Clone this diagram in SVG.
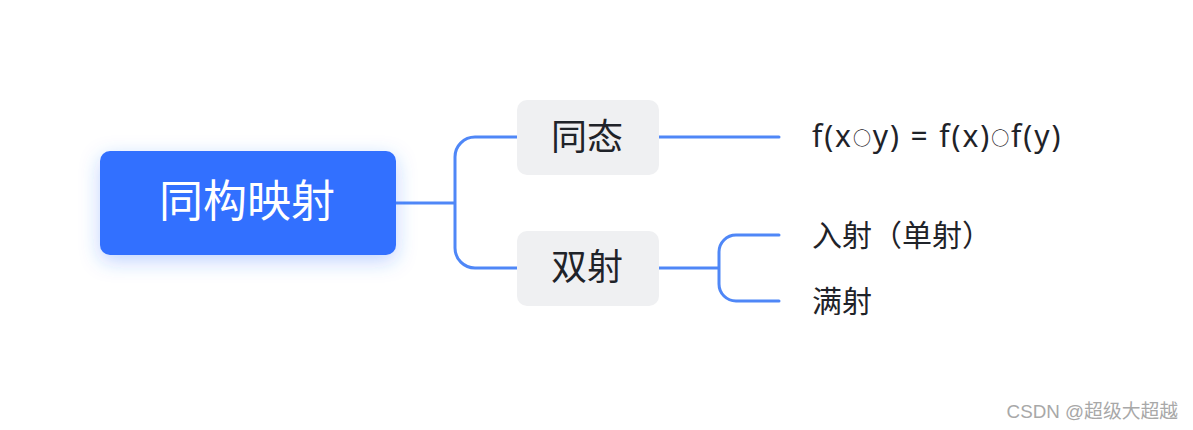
<svg xmlns="http://www.w3.org/2000/svg" width="1193" height="430" viewBox="0 0 1193 430">
<defs>
<filter id="glow" x="-30%" y="-50%" width="160%" height="200%">
<feDropShadow dx="0" dy="6" stdDeviation="10" flood-color="#3370ff" flood-opacity="0.3"/>
</filter>
<style>
.cn{fill:none;stroke:#4f87f7;stroke-width:3;stroke-linecap:round}
.sub{fill:#eff0f2}
.t{font-family:"Noto Sans","Noto Sans CJK SC",sans-serif;fill:#1f2329}
.ring{font-size:18px}
</style>
</defs>
<rect width="1193" height="430" fill="#ffffff"/>
<g id="connectors">
<path class="cn" d="M396 203 H455 M475 137 A20 20 0 0 0 455 157 V248 A20 20 0 0 0 475 268 M475 137 H517 M475 268 H517"/>
<path class="cn" d="M659 137 H779"/>
<path class="cn" d="M659 268 H719 M736 235 A17 17 0 0 0 719 252 V284 A17 17 0 0 0 736 301 M736 235 H779 M736 301 H779"/>
</g>
<g id="root">
<rect x="100" y="151" width="296" height="104" rx="10" fill="#3370ff" filter="url(#glow)"/>
<text x="247" y="217" text-anchor="middle" font-size="44" class="t" style="fill:#ffffff">同构映射</text>
</g>
<g id="tongtai">
<rect class="sub" x="517" y="100" width="142" height="75" rx="10"/>
<text class="t" x="587" y="150" text-anchor="middle" font-size="36">同态</text>
</g>
<g id="shuangshe">
<rect class="sub" x="517" y="231" width="142" height="75" rx="10"/>
<text class="t" x="587" y="280" text-anchor="middle" font-size="36">双射</text>
</g>
<g id="formula">
<text class="t" x="812" y="147" font-size="30" letter-spacing="1.9">f(x<tspan class="ring" dy="-2">○</tspan><tspan dy="2">y) = f(x)</tspan><tspan class="ring" dy="-2">○</tspan><tspan dy="2">f(y)</tspan></text>
</g>
<g id="injective">
<text class="t" x="812" y="246" font-size="30">入射（单射）</text>
</g>
<g id="surjective">
<text class="t" x="812" y="312" font-size="30">满射</text>
</g>
<text x="1178" y="418" text-anchor="end" font-size="18.8" font-family="'Liberation Sans','Noto Sans CJK SC',sans-serif" fill="#a8a8a8">CSDN @超级大超越</text>
</svg>
